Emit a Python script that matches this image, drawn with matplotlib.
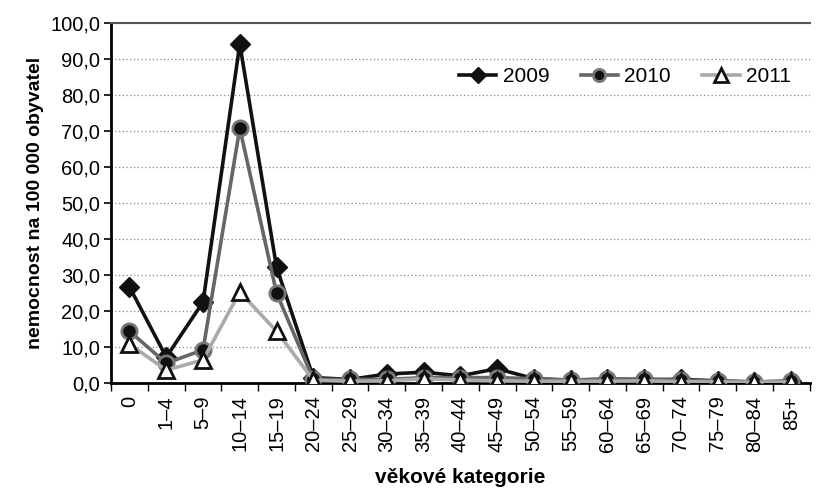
import matplotlib
matplotlib.use("Agg")
import matplotlib.pyplot as plt
from matplotlib.ticker import FuncFormatter, MultipleLocator, FixedLocator
import numpy as np

plt.rcParams['font.family'] = ['Liberation Sans', 'DejaVu Sans']

categories = ["0", "1–4", "5–9", "10–14", "15–19", "20–24", "25–29", "30–34", "35–39",
              "40–44", "45–49", "50–54", "55–59", "60–64", "65–69", "70–74", "75–79",
              "80–84", "85+"]
v2009 = [26.7, 7.2, 22.5, 94.2, 32.2, 1.5, 1.0, 2.5, 3.0, 2.0, 4.0, 1.2, 0.8, 1.0, 1.0, 1.0, 0.6, 0.3, 0.5]
v2010 = [14.4, 5.5, 9.2, 70.8, 25.0, 1.0, 1.0, 1.0, 1.5, 1.5, 1.5, 1.2, 0.8, 1.2, 1.0, 0.8, 0.5, 0.3, 0.5]
v2011 = [10.8, 3.6, 6.4, 25.3, 14.4, 0.8, 0.5, 0.6, 1.2, 0.8, 0.6, 0.5, 0.5, 0.5, 0.6, 0.4, 0.3, 0.2, 0.3]
years = ["2009", "2010", "2011"]

fig = plt.figure(figsize=(8.17, 4.92), dpi=100)
ax = fig.add_axes([0.136, 0.2215, 0.855, 0.7315])

x = np.arange(len(categories))
ax.plot(x, v2009, color='#111111', lw=2.6, marker='D', ms=10, mfc='#111111', mec='#111111',
        label=years[0], zorder=3)
ax.plot(x, v2010, color='#666666', lw=2.6, marker='o', ms=11, mfc='#111111', mec='#777777',
        mew=2, label=years[1], zorder=4)
ax.plot(x, v2011, color='#aaaaaa', lw=2.6, marker='^', ms=12, mfc='white', mec='#111111',
        mew=2, label=years[2], zorder=5)

ax.set_xlim(-0.5, len(categories) - 0.5)
ax.set_ylim(0, 100)
ax.yaxis.set_major_locator(MultipleLocator(10))
ax.yaxis.set_major_formatter(FuncFormatter(lambda v, p: f"{v:.1f}".replace('.', ',')))
ax.set_xticks(x)
ax.set_xticklabels(categories, rotation=90, fontsize=14.5)
ax.xaxis.set_minor_locator(FixedLocator(np.arange(-0.5, len(categories), 1)))
ax.tick_params(axis='x', which='major', length=0, pad=9)
ax.tick_params(axis='x', which='minor', length=6, width=1, direction='out')
ax.tick_params(axis='y', labelsize=14.5, length=5, width=1.2, pad=3)
ax.yaxis.grid(True, linestyle=(0, (1, 2)), color='#888888', lw=0.9)
ax.set_axisbelow(True)

ax.spines['right'].set_visible(False)
ax.spines['top'].set_color('#555555')
ax.spines['top'].set_linewidth(1.5)
ax.spines['left'].set_linewidth(2)
ax.spines['bottom'].set_linewidth(2)

ax.set_ylabel("nemocnost na 100 000 obyvatel", fontsize=14, fontweight='bold', labelpad=4)
ax.set_xlabel("věkové kategorie", fontsize=15, fontweight='bold', labelpad=12)

leg = ax.legend(loc='upper right', bbox_to_anchor=(1.0, 0.93), ncol=3, frameon=False,
                fontsize=15, handlelength=1.8, columnspacing=1.5, handletextpad=0.3,
                markerscale=0.8)

fig.savefig("out.png", dpi=100)
